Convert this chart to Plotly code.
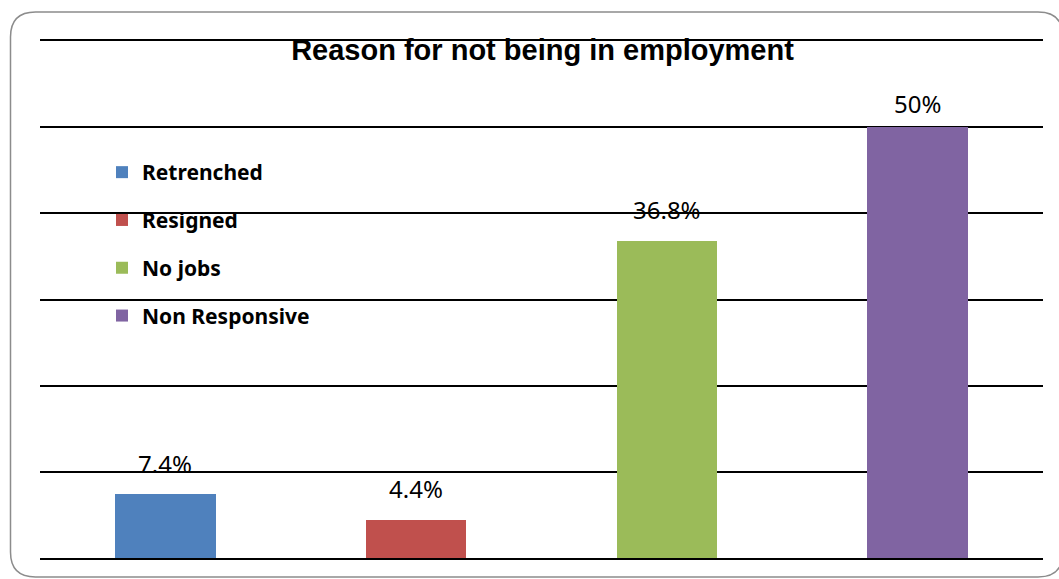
import plotly.graph_objects as go

# Survey results: reason respondents gave for not being in employment (%)
categories = ["Retrenched", "Resigned", "No jobs", "Non Responsive"]
shares = [7.4, 4.4, 36.8, 50.0]
share_labels = ["7.4%", "4.4%", "36.8%", "50%"]
bar_colors = ["#4F81BD", "#C0504D", "#9BBB59", "#8064A2"]
y_ticks = [0, 10, 20, 30, 40, 50, 60]

# pixel frame of the plotting area inside the 1059x579 page
W, H = 1059, 579
PL, PR, PT, PB = 40, 1043, 41, 558


def px_x(p):
    return (p - PL) / (PR - PL)


def px_y(p):
    return (PB - p) / (PB - PT)


fig = go.Figure()
for name, val, col in zip(categories, shares, bar_colors):
    fig.add_trace(go.Bar(
        x=[name], y=[val], name=name, width=0.4,
        marker=dict(color=col, line=dict(width=0)),
        legendgroup=name, hoverinfo="skip",
    ))

# value labels sitting above each bar
label_lift = [31, 32, 31, 24]
for name, val, txt, lift in zip(categories, shares, share_labels, label_lift):
    fig.add_annotation(
        x=name, y=val, text=txt, showarrow=False,
        yanchor="middle", yshift=lift,
        font=dict(family="Noto Sans", size=24, color="#000"),
    )

# rounded frame around the whole chart
left, top, right, bottom, r = 10.5, 12, 1063, 577, 25
frame = (
    f"M {px_x(left + r)},{px_y(top)} L {px_x(right - r)},{px_y(top)} "
    f"Q {px_x(right)},{px_y(top)} {px_x(right)},{px_y(top + r)} "
    f"L {px_x(right)},{px_y(bottom - r)} "
    f"Q {px_x(right)},{px_y(bottom)} {px_x(right - r)},{px_y(bottom)} "
    f"L {px_x(left + r)},{px_y(bottom)} "
    f"Q {px_x(left)},{px_y(bottom)} {px_x(left)},{px_y(bottom - r)} "
    f"L {px_x(left)},{px_y(top + r)} "
    f"Q {px_x(left)},{px_y(top)} {px_x(left + r)},{px_y(top)} Z"
)
fig.add_shape(type="path", path=frame, xref="paper", yref="paper",
              line=dict(color="#8c8c8c", width=1.5), layer="above")

fig.update_layout(
    width=W, height=H,
    margin=dict(l=PL, r=W - PR, t=PT, b=H - PB, pad=0),
    paper_bgcolor="white", plot_bgcolor="white",
    barmode="overlay", bargap=0,
    title=dict(
        text="<b>Reason for not being in employment</b>",
        x=px_x((PL + PR) / 2 + 1), xref="paper", xanchor="center",
        y=1 - 50 / H, yref="container", yanchor="middle",
        font=dict(family="Liberation Sans", size=29, color="#000"),
    ),
    xaxis=dict(
        type="category", categoryorder="array", categoryarray=categories,
        showticklabels=False, ticks="", showgrid=False, zeroline=False,
        showline=True, mirror=True, linecolor="#000", linewidth=1.5,
        fixedrange=True,
    ),
    yaxis=dict(
        range=[0, 60], tickvals=y_ticks, showticklabels=False, ticks="",
        showgrid=True, gridcolor="#000", gridwidth=1.5,
        zeroline=False, showline=False, fixedrange=True,
    ),
    legend=dict(
        x=px_x(102), y=px_y(152), xanchor="left", yanchor="top",
        bgcolor="rgba(0,0,0,0)", borderwidth=0,
        font=dict(family="Noto Sans", size=21, color="#000", weight="bold"),
        tracegroupgap=17.5, traceorder="grouped",
    ),
    showlegend=True,
)

fig.write_html("out.html", config={"displayModeBar": False})
